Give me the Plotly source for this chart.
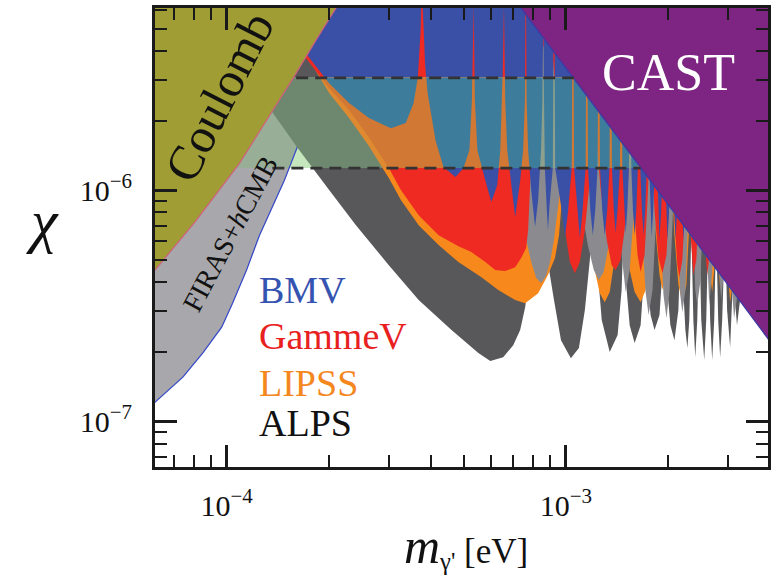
import math
import plotly.graph_objects as go

# ---------------- data (mass in eV, mixing chi) ----------------
firas = [(5.75e-5, 1.105e-7), (6.15e-5, 1.21e-7), (7.43e-5, 1.55e-7), (8.50e-5, 1.97e-7),
         (9.67e-5, 2.55e-7), (1.041e-4, 3.24e-7), (1.145e-4, 4.51e-7), (1.25e-4, 6.38e-7),
         (1.479e-4, 1.10e-6), (1.603e-4, 1.49e-6), (1.751e-4, 2.11e-6), (2.005e-4, 3.58e-6),
         (2.326e-4, 6.14e-6)]

coulomb = [(5.75e-5, 4.0e-7), (6.15e-5, 4.51e-7), (8.06e-5, 7.27e-7), (1.092e-4, 1.309e-6),
           (1.572e-4, 3.06e-6), (1.849e-4, 4.55e-6), (2.10e-4, 6.14e-6), (2.218e-4, 6.98e-6)]

alps_vacuum = [
    (7.79e-5, 6.98e-6), (1.355e-4, 2.20e-6), (1.615e-4, 1.53e-6), (2.005e-4, 1.00e-6),
    (2.405e-4, 7.05e-7), (3.006e-4, 4.73e-7), (3.681e-4, 3.34e-7), (4.60e-4, 2.48e-7),
    (5.52e-4, 1.97e-7), (5.984e-4, 1.82e-7), (6.531e-4, 1.89e-7), (6.992e-4, 2.13e-7),
    (7.33e-4, 2.48e-7), (7.585e-4, 3.12e-7), (7.90e-4, 4.98e-7), (8.17e-4, 1.10e-6),
    (8.28e-4, 2.01e-6), (8.39e-4, 1.10e-6), (8.73e-4, 5.50e-7), (9.22e-4, 3.34e-7),
    (9.67e-4, 2.24e-7), (1.034e-3, 1.87e-7), (1.092e-3, 2.07e-7), (1.137e-3, 3.03e-7),
    (1.176e-3, 4.98e-7), (1.208e-3, 9.06e-7), (1.233e-3, 4.98e-7), (1.275e-3, 2.74e-7),
    (1.346e-3, 1.99e-7), (1.42e-3, 2.36e-7), (1.459e-3, 3.69e-7), (1.479e-3, 6.71e-7),
    (1.510e-3, 3.69e-7), (1.541e-3, 2.60e-7), (1.594e-3, 2.18e-7), (1.66e-3, 2.60e-7),
    (1.694e-3, 4.08e-7), (1.717e-3, 6.71e-7), (1.74e-3, 4.08e-7), (1.776e-3, 2.88e-7),
    (1.824e-3, 2.48e-7), (1.887e-3, 2.88e-7), (1.925e-3, 4.51e-7), (1.952e-3, 7.41e-7),
    (1.978e-3, 4.08e-7), (2.032e-3, 2.60e-7), (2.088e-3, 2.24e-7), (2.145e-3, 3.03e-7),
    (2.173e-3, 4.98e-7), (2.188e-3, 7.41e-7), (2.218e-3, 3.69e-7), (2.249e-3, 2.48e-7),
    (2.28e-3, 2.07e-7), (2.310e-3, 2.74e-7), (2.342e-3, 6.71e-7), (2.374e-3, 2.74e-7),
    (2.405e-3, 1.89e-7), (2.438e-3, 2.74e-7), (2.472e-3, 6.71e-7), (2.505e-3, 2.74e-7),
    (2.556e-3, 1.84e-7), (2.591e-3, 2.74e-7), (2.627e-3, 6.71e-7), (2.661e-3, 2.74e-7),
    (2.698e-3, 1.84e-7), (2.735e-3, 2.74e-7), (2.772e-3, 6.71e-7), (2.810e-3, 2.74e-7),
    (2.848e-3, 1.89e-7), (2.887e-3, 2.74e-7), (2.944e-3, 6.71e-7), (2.985e-3, 3.03e-7),
    (3.047e-3, 2.09e-7), (3.088e-3, 3.34e-7), (3.11e-3, 6.08e-7), (3.15e-3, 3.34e-7),
    (3.192e-3, 2.60e-7), (3.26e-3, 3.34e-7), (3.372e-3, 4.51e-7), (4.2e-3, 1.5e-6)]

lipss = [
    (1.346e-4, 6.98e-6), (1.751e-4, 3.66e-6), (2.005e-4, 2.63e-6), (2.295e-4, 2.05e-6),
    (2.626e-4, 1.55e-6), (3.006e-4, 1.127e-6), (3.262e-4, 9.06e-7), (3.681e-4, 7.05e-7),
    (4.214e-4, 5.78e-7), (4.82e-4, 4.88e-7), (5.636e-4, 4.20e-7), (6.318e-4, 3.69e-7),
    (7.086e-4, 3.34e-7), (7.585e-4, 3.24e-7), (8.28e-4, 3.58e-7), (8.85e-4, 4.29e-7),
    (9.284e-4, 5.08e-7), (9.54e-4, 6.38e-7), (9.73e-4, 9.06e-7), (9.93e-4, 1.49e-6),
    (1.048e-3, 3.66e-6), (1.121e-3, 1.49e-6), (1.176e-3, 6.71e-7), (1.216e-3, 4.51e-7),
    (1.258e-3, 3.58e-7), (1.301e-3, 3.27e-7), (1.346e-3, 3.62e-7), (1.383e-3, 4.73e-7),
    (1.411e-3, 7.41e-7), (1.44e-3, 1.49e-6), (1.479e-3, 7.41e-7), (1.541e-3, 4.51e-7),
    (1.594e-3, 3.62e-7), (1.66e-3, 3.27e-7), (1.717e-3, 3.69e-7), (1.752e-3, 4.98e-7),
    (1.776e-3, 7.41e-7), (1.80e-3, 1.35e-6), (1.836e-3, 6.71e-7), (1.887e-3, 4.29e-7),
    (1.925e-3, 3.69e-7), (1.965e-3, 4.29e-7), (2.004e-3, 6.71e-7), (2.046e-3, 1.22e-6),
    (2.088e-3, 6.38e-7), (2.145e-3, 3.88e-7), (2.203e-3, 3.27e-7), (2.264e-3, 3.88e-7),
    (2.310e-3, 6.71e-7), (2.342e-3, 1.10e-6), (2.39e-3, 5.50e-7), (2.438e-3, 3.44e-7),
    (2.488e-3, 4.51e-7), (2.539e-3, 9.06e-7), (2.574e-3, 1.10e-6), (2.627e-3, 4.98e-7),
    (2.698e-3, 3.62e-7), (2.735e-3, 4.51e-7), (2.772e-3, 7.41e-7), (2.810e-3, 4.98e-7),
    (2.848e-3, 3.69e-7), (2.887e-3, 4.73e-7), (2.944e-3, 9.06e-7), (2.985e-3, 4.98e-7),
    (3.047e-3, 3.27e-7), (3.11e-3, 4.08e-7), (3.192e-3, 5.50e-7), (3.418e-3, 7.41e-7),
    (4.2e-3, 1.5e-6)]

alps_gas = [
    (1.43e-4, 6.98e-6), (2.005e-4, 4.45e-6), (3.217e-4, 2.01e-6), (4.82e-4, 1.051e-6),
    (6.318e-4, 7.79e-7), (7.23e-4, 7.05e-7), (7.585e-4, 6.38e-7), (7.90e-4, 4.88e-7),
    (8.17e-4, 4.16e-7), (8.447e-4, 3.96e-7), (8.73e-4, 4.24e-7), (8.98e-4, 4.88e-7),
    (9.22e-4, 6.08e-7), (9.54e-4, 9.06e-7), (9.865e-4, 1.35e-6), (1.02e-3, 2.01e-6),
    (1.062e-3, 1.35e-6), (1.107e-3, 8.61e-7), (1.16e-3, 5.78e-7), (1.208e-3, 4.51e-7),
    (1.25e-3, 4.08e-7), (1.292e-3, 4.42e-7), (1.337e-3, 5.78e-7), (1.373e-3, 8.61e-7),
    (1.401e-3, 1.35e-6), (1.43e-3, 8.61e-7), (1.459e-3, 5.23e-7), (1.50e-3, 3.62e-7),
    (1.541e-3, 4.51e-7), (1.583e-3, 7.79e-7), (1.626e-3, 1.35e-6), (1.671e-3, 7.05e-7),
    (1.717e-3, 3.62e-7), (1.752e-3, 2.88e-7), (1.80e-3, 3.69e-7), (1.836e-3, 6.71e-7),
    (1.862e-3, 1.22e-6), (1.90e-3, 6.38e-7), (1.939e-3, 3.51e-7), (1.978e-3, 2.79e-7),
    (2.018e-3, 3.62e-7), (2.06e-3, 7.05e-7), (2.088e-3, 1.22e-6), (2.13e-3, 6.38e-7),
    (2.173e-3, 3.51e-7), (2.203e-3, 2.96e-7), (2.249e-3, 3.69e-7), (2.295e-3, 8.19e-7),
    (2.326e-3, 1.22e-6), (2.374e-3, 6.38e-7), (2.405e-3, 3.69e-7), (2.438e-3, 3.18e-7),
    (2.488e-3, 4.0e-7), (2.539e-3, 8.19e-7), (2.574e-3, 1.22e-6), (2.608e-3, 5.23e-7),
    (2.644e-3, 3.18e-7), (2.698e-3, 4.42e-7), (2.753e-3, 1.0e-6), (2.810e-3, 5.23e-7),
    (2.867e-3, 3.34e-7), (2.927e-3, 4.51e-7), (2.985e-3, 8.19e-7), (3.047e-3, 4.73e-7),
    (3.13e-3, 2.79e-7), (3.216e-3, 3.69e-7), (3.327e-3, 5.23e-7), (3.463e-3, 6.71e-7),
    (4.2e-3, 1.5e-6)]

gammev = [
    (1.233e-4, 6.98e-6), (1.751e-4, 3.58e-6), (2.005e-4, 2.76e-6), (2.295e-4, 2.22e-6),
    (2.626e-4, 1.69e-6), (3.006e-4, 1.245e-6), (3.262e-4, 1.0e-6), (3.681e-4, 7.79e-7),
    (4.214e-4, 6.38e-7), (4.82e-4, 5.72e-7), (5.265e-4, 5.39e-7), (5.787e-4, 4.88e-7),
    (6.191e-4, 4.51e-7), (6.622e-4, 4.46e-7), (7.086e-4, 4.64e-7), (7.38e-4, 5.08e-7),
    (7.633e-4, 5.61e-7), (7.737e-4, 6.71e-7), (7.842e-4, 1.0e-6), (8.0e-4, 2.01e-6),
    (8.28e-4, 3.66e-6), (8.73e-4, 4.45e-6), (9.16e-4, 3.66e-6), (9.475e-4, 2.01e-6),
    (9.67e-4, 1.10e-6), (9.93e-4, 6.71e-7), (1.027e-3, 4.88e-7), (1.062e-3, 4.37e-7),
    (1.099e-3, 4.88e-7), (1.137e-3, 6.71e-7), (1.176e-3, 1.10e-6), (1.216e-3, 2.01e-6),
    (1.266e-3, 1.0e-6), (1.319e-3, 6.08e-7), (1.364e-3, 4.73e-7), (1.401e-3, 4.51e-7),
    (1.449e-3, 4.98e-7), (1.489e-3, 6.71e-7), (1.531e-3, 1.22e-6), (1.551e-3, 2.01e-6),
    (1.583e-3, 9.06e-7), (1.626e-3, 5.23e-7), (1.66e-3, 4.42e-7), (1.705e-3, 5.23e-7),
    (1.74e-3, 9.06e-7), (1.776e-3, 1.82e-6), (1.824e-3, 8.19e-7), (1.874e-3, 5.08e-7),
    (1.925e-3, 4.37e-7), (1.978e-3, 5.23e-7), (2.018e-3, 9.06e-7), (2.046e-3, 1.64e-6),
    (2.088e-3, 7.41e-7), (2.13e-3, 4.73e-7), (2.159e-3, 4.20e-7), (2.203e-3, 4.98e-7),
    (2.249e-3, 9.06e-7), (2.28e-3, 1.64e-6), (2.326e-3, 6.71e-7), (2.374e-3, 4.29e-7),
    (2.422e-3, 4.98e-7), (2.472e-3, 9.06e-7), (2.505e-3, 1.49e-6), (2.556e-3, 6.71e-7),
    (2.608e-3, 4.29e-7), (2.661e-3, 5.50e-7), (2.716e-3, 1.10e-6), (2.772e-3, 6.08e-7),
    (2.829e-3, 4.51e-7), (2.887e-3, 6.08e-7), (2.944e-3, 1.10e-6), (3.006e-3, 5.50e-7),
    (3.068e-3, 4.51e-7), (3.13e-3, 6.08e-7), (3.304e-3, 9.06e-7), (4.2e-3, 1.5e-6)]

bmv = [
    (1.258e-4, 6.98e-6), (1.728e-4, 3.84e-6), (2.005e-4, 2.90e-6), (2.295e-4, 2.38e-6),
    (2.626e-4, 2.05e-6), (3.048e-4, 1.85e-6), (3.373e-4, 1.95e-6), (3.557e-4, 2.38e-6),
    (3.656e-4, 2.99e-6), (3.731e-4, 4.93e-6), (3.746e-4, 6.3e-6), (3.782e-4, 6.3e-6),
    (3.807e-4, 4.93e-6), (3.846e-4, 3.48e-6), (3.912e-4, 2.63e-6), (4.128e-4, 1.64e-6),
    (4.355e-4, 1.258e-6), (4.726e-4, 1.14e-6), (4.99e-4, 1.245e-6), (5.194e-4, 1.49e-6),
    (5.283e-4, 2.46e-6), (5.325e-4, 6.3e-6), (5.347e-4, 6.3e-6), (5.39e-4, 2.46e-6),
    (5.483e-4, 1.49e-6), (5.787e-4, 1.10e-6), (6.026e-4, 8.87e-7), (6.276e-4, 1.051e-6),
    (6.404e-4, 1.49e-6), (6.49e-4, 2.46e-6), (6.54e-4, 6.3e-6), (6.567e-4, 6.3e-6),
    (6.622e-4, 2.46e-6), (6.714e-4, 1.49e-6), (7.086e-4, 7.64e-7), (7.33e-4, 1.10e-6),
    (7.48e-4, 1.49e-6), (7.57e-4, 2.46e-6), (7.596e-4, 6.3e-6), (7.627e-4, 6.3e-6),
    (7.659e-4, 2.46e-6), (7.737e-4, 1.49e-6), (7.90e-4, 1.0e-6), (8.11e-4, 6.92e-7),
    (8.28e-4, 9.06e-7), (8.447e-4, 1.49e-6), (8.525e-4, 2.46e-6), (8.547e-4, 6.3e-6),
    (8.58e-4, 6.3e-6), (8.61e-4, 2.46e-6), (8.667e-4, 1.245e-6),
    (8.768e-4, 8.61e-7), (8.85e-4, 6.71e-7), (8.947e-4, 8.61e-7),
    (9.147e-4, 1.245e-6), (9.196e-4, 6.3e-6), (9.247e-4, 6.3e-6), (9.296e-4, 1.245e-6),
    (9.734e-4, 8.03e-7), (9.93e-4, 6.26e-7), (1.014e-3, 8.03e-7),
    (1.04e-3, 1.245e-6), (1.0457e-3, 6.3e-6), (1.0513e-3, 6.3e-6), (1.057e-3, 1.245e-6),
    (1.0806e-3, 7.95e-7), (1.099e-3, 6.20e-7), (1.1177e-3, 7.95e-7),
    (1.143e-3, 1.245e-6), (1.149e-3, 6.3e-6), (1.1555e-3, 6.3e-6), (1.1617e-3, 1.245e-6),
    (1.1798e-3, 8.19e-7), (1.2e-3, 6.38e-7), (1.2203e-3, 8.19e-7),
    (1.2396e-3, 1.245e-6), (1.2463e-3, 6.3e-6), (1.2531e-3, 6.3e-6), (1.2598e-3, 1.245e-6),
    (1.2794e-3, 8.19e-7), (1.301e-3, 6.38e-7), (1.3234e-3, 8.19e-7),
    (1.3441e-3, 1.245e-6), (1.3515e-3, 6.3e-6), (1.3587e-3, 6.3e-6), (1.3663e-3, 1.245e-6),
    (1.383e-3, 8.36e-7), (1.401e-3, 6.51e-7), (1.42e-3, 8.36e-7),
    (1.4426e-3, 1.245e-6), (1.4506e-3, 6.3e-6), (1.4583e-3, 6.3e-6), (1.4664e-3, 1.245e-6),
    (1.4825e-3, 8.36e-7), (1.50e-3, 6.51e-7), (1.517e-3, 8.36e-7),
    (1.5333e-3, 1.245e-6), (1.5417e-3, 6.3e-6), (1.55e-3, 6.3e-6), (1.5586e-3, 1.245e-6),
    (1.5755e-3, 8.19e-7), (1.594e-3, 6.38e-7), (1.6118e-3, 8.19e-7),
    (1.6293e-3, 1.245e-6), (1.6383e-3, 6.3e-6), (1.6471e-3, 6.3e-6), (1.6562e-3, 1.245e-6),
    (1.6742e-3, 8.19e-7), (1.694e-3, 6.38e-7), (1.7128e-3, 8.19e-7),
    (1.7315e-3, 1.245e-6), (1.741e-3, 6.3e-6), (1.7503e-3, 6.3e-6), (1.76e-3, 1.245e-6),
    (1.773e-3, 8.03e-7), (1.788e-3, 6.26e-7), (1.8068e-3, 8.03e-7),
    (1.8277e-3, 1.245e-6), (1.8374e-3, 6.3e-6), (1.8476e-3, 6.3e-6), (1.8574e-3, 1.245e-6),
    (1.8712e-3, 7.79e-7), (1.887e-3, 6.08e-7), (1.9059e-3, 7.79e-7),
    (1.9289e-3, 1.245e-6), (1.9396e-3, 6.3e-6), (1.9498e-3, 6.3e-6), (1.9607e-3, 1.245e-6),
    (1.9752e-3, 7.79e-7), (1.991e-3, 6.08e-7), (2.0114e-3, 7.79e-7),
    (2.0361e-3, 1.245e-6), (2.0469e-3, 6.3e-6), (2.0583e-3, 6.3e-6), (2.0692e-3, 1.245e-6),
    (2.085e-3, 7.79e-7), (2.102e-3, 6.08e-7), (2.1232e-3, 7.79e-7),
    (2.1492e-3, 1.245e-6), (2.1606e-3, 6.3e-6), (2.1727e-3, 6.3e-6), (2.1842e-3, 1.245e-6),
    (2.2004e-3, 7.79e-7), (2.218e-3, 6.08e-7), (2.2408e-3, 7.79e-7),
    (2.261e-3, 1.245e-6), (2.273e-3, 6.3e-6), (4.2e-3, 6.3e-6)]

cast = [(6.90e-4, 6.98e-6), (1.74e-3, 1.14e-6), (4.48e-3, 1.765e-7)]

band_chi = [1.245e-6, 3.06e-6]                      # shaded band between the dashed lines
dash_upper = [(1.603e-4, 3.06e-6), (1.055e-3, 3.06e-6)]
dash_lower = [(1.364e-4, 1.245e-6), (1.66e-3, 1.245e-6)]

x_range = [6.15e-5, 3.94e-3]
y_range = [6.33e-8, 6.14e-6]
x_major = [1e-4, 1e-3]
x_major_text = ["10<sup>−4</sup>", "10<sup>−3</sup>"]
y_major = [1e-7, 1e-6]
y_major_text = ["10<sup>−7</sup>", "10<sup>−6</sup>"]
x_minor = [7e-5, 8e-5, 9e-5, 2e-4, 3e-4, 4e-4, 5e-4, 6e-4, 7e-4, 8e-4, 9e-4, 2e-3, 3e-3]
y_minor = [7e-8, 8e-8, 9e-8, 2e-7, 3e-7, 4e-7, 5e-7, 6e-7, 7e-7, 8e-7, 9e-7,
           2e-6, 3e-6, 4e-6, 5e-6, 6e-6]

CEIL = 1e-5
SERIF = "Liberation Serif"
INK = "#1a1a1a"

# colours: normal, and as seen inside the shaded band
COL = {
    "firas": ("#a7a7ac", "#98ae96"),
    "alps_vac": ("#58585b", "#6e876f"),
    "lipss": ("#f7891c", "#df8a30"),
    "alps_gas": ("#8b8b8f", "#8da08e"),
    "gammev": ("#ee2a23", "#d07834"),
    "bmv": ("#3a50a6", "#3e7c9c"),
}
BAND_WHITE = "#c6e6bd"


def above_polygon(points):
    return list(points) + [(points[-1][0], CEIL), (points[0][0], CEIL)]


def _cut(p, q, ly):
    t = (ly - p[1]) / (q[1] - p[1])
    return (p[0] + t * (q[0] - p[0]), ly)


def clip_band(poly, lo, hi):
    """Clip a polygon (data units) to lo <= chi <= hi, working in log space."""
    pts = [(math.log10(a), math.log10(b)) for a, b in poly]
    for ly, keep_above in ((math.log10(lo), True), (math.log10(hi), False)):
        def inside(p):
            return p[1] >= ly if keep_above else p[1] <= ly
        out = []
        for i in range(len(pts)):
            cur, prev = pts[i], pts[i - 1]
            if inside(cur):
                if not inside(prev):
                    out.append(_cut(prev, cur, ly))
                out.append(cur)
            elif inside(prev):
                out.append(_cut(prev, cur, ly))
        pts = out
        if not pts:
            return []
    return [(10 ** a, 10 ** b) for a, b in pts]


def clip_polyline(points, lo, hi):
    llo, lhi = math.log10(lo), math.log10(hi)
    pts = [(math.log10(a), math.log10(b)) for a, b in points]
    xs, ys = [], []
    for p, q in zip(pts[:-1], pts[1:]):
        a, b = p, q
        ok = True
        for ly, above in ((llo, True), (lhi, False)):
            ina = a[1] >= ly if above else a[1] <= ly
            inb = b[1] >= ly if above else b[1] <= ly
            if not ina and not inb:
                ok = False
                break
            if not ina:
                a = _cut(a, b, ly)
            elif not inb:
                b = _cut(a, b, ly)
        if ok:
            xs += [10 ** a[0], 10 ** b[0], None]
            ys += [10 ** a[1], 10 ** b[1], None]
    return xs, ys


def fill_trace(poly, color, line_color=None, line_width=0):
    return go.Scatter(
        x=[p[0] for p in poly], y=[p[1] for p in poly], mode="lines",
        fill="toself", fillcolor=color,
        line=dict(color=line_color or color, width=line_width),
        hoverinfo="skip", showlegend=False)


layers = [("firas", firas), ("alps_vac", alps_vacuum), ("lipss", lipss),
          ("alps_gas", alps_gas), ("gammev", gammev), ("bmv", bmv)]

fig = go.Figure()
# regular layers
for key, curve in layers:
    if key == "firas":
        fig.add_trace(fill_trace(above_polygon(curve), COL[key][0], "#3346c8", 1.2))
    else:
        fig.add_trace(fill_trace(above_polygon(curve), COL[key][0]))

# shaded band: same layers redrawn in their band colours
lo, hi = band_chi
fig.add_trace(fill_trace([(5e-5, lo), (5e-3, lo), (5e-3, hi), (5e-5, hi)], BAND_WHITE))
for key, curve in layers:
    clipped = clip_band(above_polygon(curve), lo, hi)
    if clipped:
        fig.add_trace(fill_trace(clipped, COL[key][1]))
    if key == "firas":
        ex, ey = clip_polyline(curve, lo, hi)
        fig.add_trace(go.Scatter(x=ex, y=ey, mode="lines", line=dict(color="#3346c8", width=1.2),
                                 hoverinfo="skip", showlegend=False))

fig.add_trace(fill_trace(above_polygon(coulomb), "#a09d35", "#d0607c", 1.2))
fig.add_trace(fill_trace(above_polygon(cast), "#7e2482", "#3a3aa8", 1.2))

for seg in (dash_upper, dash_lower):
    fig.add_trace(go.Scatter(
        x=[p[0] for p in seg], y=[p[1] for p in seg], mode="lines",
        line=dict(color="#333333", width=2.6, dash="12px,7px"),
        hoverinfo="skip", showlegend=False))


def paper_x(px):
    return (px - 155) / 616.0


def paper_y(py):
    return (467 - py) / 459.0


ann = []
ann.append(dict(text="CAST", x=paper_x(671), y=paper_y(72),
                font=dict(family=SERIF, size=52, color="white")))
ann.append(dict(text="Coulomb", x=paper_x(219), y=paper_y(97), textangle=-63,
                font=dict(family=SERIF, size=49, color="#111111")))
ann.append(dict(text="FIRAS+<i>h</i>CMB", x=paper_x(231), y=paper_y(234), textangle=-62,
                font=dict(family=SERIF, size=28, color="#111111")))
for label, col, py in [("BMV", "#3553b0", 290), ("GammeV", "#e8211f", 336),
                       ("LIPSS", "#f5871f", 383), ("ALPS", "#111111", 423)]:
    ann.append(dict(text=label, x=paper_x(257), y=paper_y(py), xanchor="left",
                    font=dict(family=SERIF, size=38, color=col)))
ann.append(dict(text="<i>χ</i>", x=paper_x(42), y=paper_y(221),
                font=dict(family=SERIF, size=60, color="#111111")))
ann.append(dict(text="<span style=\"font-size:50px\"><i>m</i></span><sub>γ'</sub> [eV]",
                x=paper_x(468), y=paper_y(546),
                font=dict(family=SERIF, size=35, color="#111111")))
for a in ann:
    a.setdefault("xanchor", "center")
    a.update(xref="paper", yref="paper", showarrow=False, yanchor="middle")

axis_common = dict(
    type="log", tickmode="array", ticks="inside", ticklen=22, tickwidth=2.5,
    tickcolor=INK, showline=True, linewidth=3, linecolor=INK, mirror="ticks",
    showgrid=False, zeroline=False,
    tickfont=dict(family=SERIF, size=30, color="#111111"),
)

fig.update_layout(
    width=774, height=587,
    margin=dict(l=155, r=3, t=8, b=120),
    paper_bgcolor="white", plot_bgcolor="white",
    showlegend=False,
    annotations=ann,
    xaxis=dict(axis_common, range=[math.log10(x_range[0]), math.log10(x_range[1])],
               tickvals=x_major, ticktext=x_major_text, ticklabelstandoff=10,
               minor=dict(tickvals=x_minor, ticks="inside", ticklen=12, tickwidth=2, tickcolor=INK)),
    yaxis=dict(axis_common, range=[math.log10(y_range[0]), math.log10(y_range[1])],
               tickvals=y_major, ticktext=y_major_text, ticklabelstandoff=14,
               minor=dict(tickvals=y_minor, ticks="inside", ticklen=12, tickwidth=2, tickcolor=INK)),
)

fig.write_html("out.html", config={"displayModeBar": False},
               post_script="document.body.style.margin='0px';")
